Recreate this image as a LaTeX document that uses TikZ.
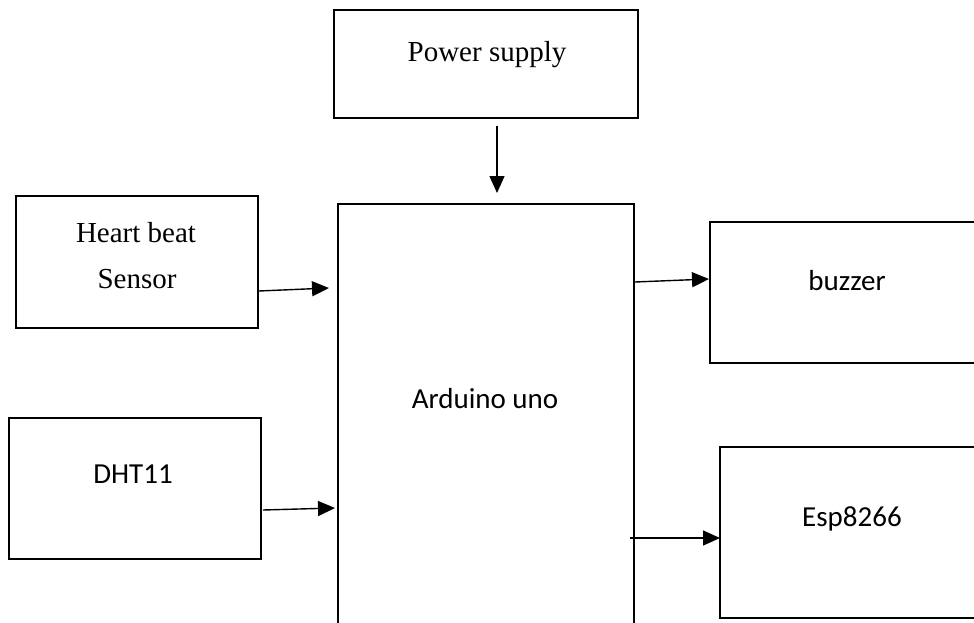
\documentclass[tikz,border=0pt]{standalone}
\usepackage{fontspec}
\setmainfont{Liberation Serif}
\newfontfamily\sansf{Carlito}
\usetikzlibrary{arrows.meta}
\begin{document}
\begin{tikzpicture}[x=1pt,y=-1pt,
  box/.style={draw=black,line width=1.5pt,rectangle,inner sep=0pt,outer sep=0pt},
  arr/.style={draw=black,line width=1.4pt,-{Triangle[length=17pt,width=15pt]}},
  serif/.style={font=\fontsize{29}{35}\selectfont,anchor=base,inner sep=0pt},
  sans/.style={font=\sansf\fontsize{29}{35}\selectfont,anchor=base,inner sep=0pt}]
\useasboundingbox (0,0) rectangle (974,623);
\clip (0,0) rectangle (974,623);
\fill[white] (0,0) rectangle (974,623);
% boxes
\node[box,minimum width=304pt,minimum height=108pt] (ps) at (486,64) {};
\node[box,minimum width=296pt,minimum height=496pt] (ard) at (486,452) {};
\node[box,minimum width=242pt,minimum height=132pt] (hb) at (137,262) {};
\node[box,minimum width=252pt,minimum height=141pt] (dht) at (135,488.5) {};
\node[box,minimum width=290pt,minimum height=141pt] (buz) at (855,292.5) {};
\node[box,minimum width=280pt,minimum height=171pt] (esp) at (860,532.5) {};
% texts
\node[serif] (tps) at (487,62) {Power supply};
\node[serif] (thb1) at (136,242) {Heart beat};
\node[serif] (thb2) at (137,288) {Sensor};
\node[sans] (tdht) at (133,483) {DHT11};
\node[sans] (tard) at (485,408) {Arduino uno};
\node[sans] (tbuz) at (847,290) {buzzer};
\node[sans] (tesp) at (852,526) {Esp8266};
% connectors
\draw[arr] ([xshift=11pt,yshift=-8pt]ps.south) -- ([xshift=11pt,yshift=11pt]ard.north);
\draw[arr] ([xshift=1pt,yshift=-29pt]hb.east) -- ([xshift=-9pt,yshift=164pt]ard.west);
\draw[arr] ([xshift=2pt,yshift=-21.5pt]dht.east) -- ([xshift=-3pt,yshift=-56pt]ard.west);
\draw[arr] ([xshift=1pt,yshift=170pt]ard.east) -- ([xshift=-1pt,yshift=13.5pt]buz.west);
\draw[arr] ([xshift=-4pt,yshift=-86pt]ard.east) -- ([yshift=-5.5pt]esp.west);
\end{tikzpicture}
\end{document}
